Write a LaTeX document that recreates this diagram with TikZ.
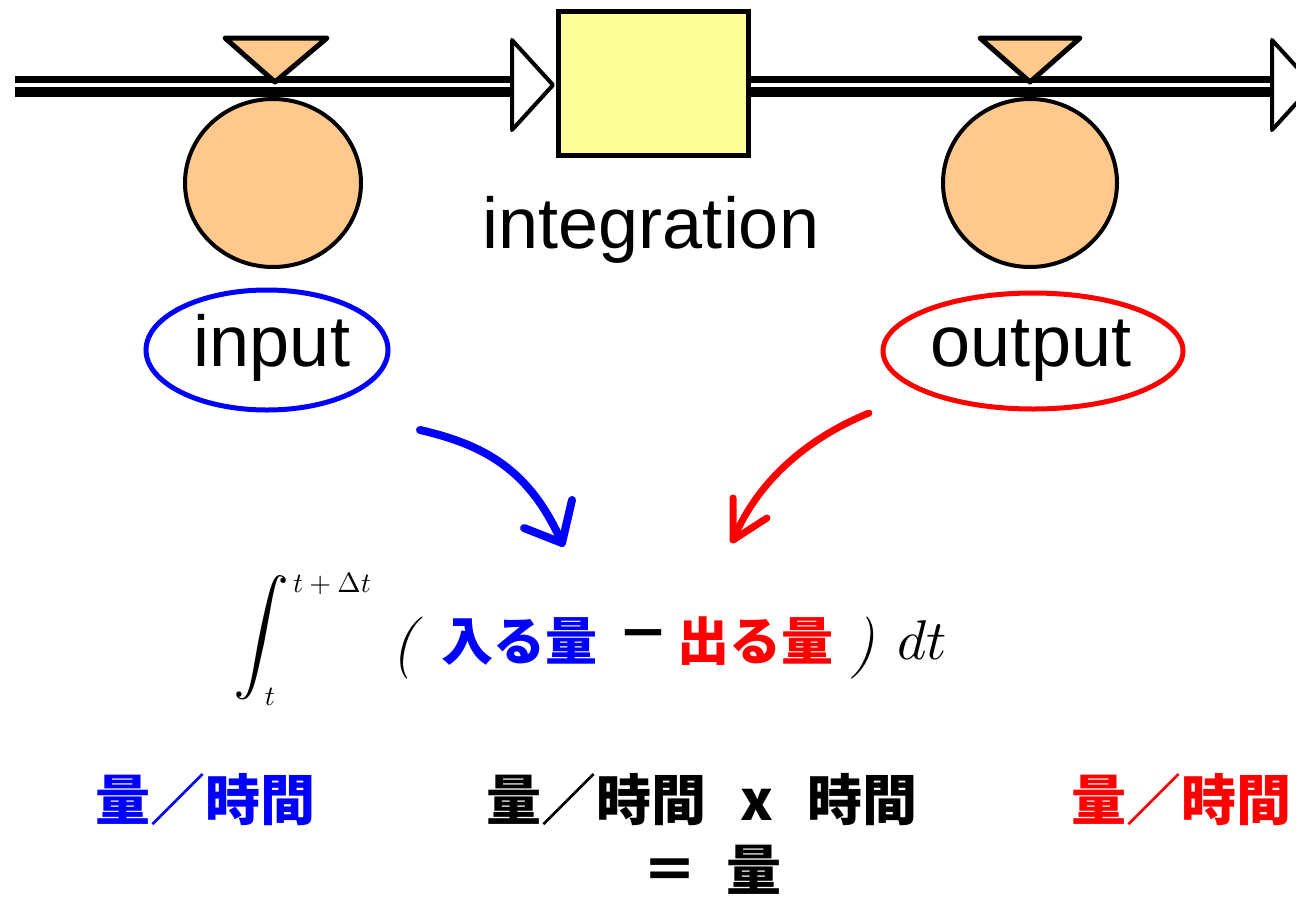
\documentclass[tikz,border=0pt]{standalone}
\usepackage{fontspec}
\usepackage{graphicx}
\usetikzlibrary{shapes.geometric}
\newfontfamily\cjk{Noto Sans CJK JP}
\newfontfamily\lat{Liberation Sans}
\definecolor{valvefill}{HTML}{FFC88C}
\definecolor{stockfill}{HTML}{FFFF99}
\definecolor{myblue}{HTML}{0000FF}
\definecolor{myred}{HTML}{FF0000}
\begin{document}
\begin{tikzpicture}[x=1pt,y=-1pt,
  pipethin/.style={line width=7pt},
  pipethick/.style={line width=10pt},
  headtri/.style={draw=black,fill=white,line width=4pt,line join=round},
  valvetri/.style={draw=black,fill=valvefill,line width=5pt,line join=round},
  auxcirc/.style={ellipse,draw=black,fill=valvefill,line width=4pt,inner sep=0pt},
  stockbox/.style={rectangle,draw=black,fill=stockfill,line width=5pt,inner sep=0pt,minimum width=190pt,minimum height=144pt},
  latlabel/.style={font=\lat\fontsize{72}{80}\selectfont,inner sep=0pt,anchor=base},
  ringlabel/.style={ellipse,line width=5pt,inner sep=0pt},
  handarrow/.style={line width=8pt,line cap=round,line join=round},
  mathpart/.style={inner sep=0pt},
  cjkbig/.style={font=\cjk\bfseries\fontsize{52}{60}\selectfont,inner sep=0pt},
  cjkrow/.style={font=\cjk\bfseries\fontsize{55}{62}\selectfont,inner sep=0pt}
]
\useasboundingbox[fill=white] (0,0) rectangle (1296,900);

% stock
\node[stockbox] (stock) at (653.5,83.5) {};

% pipe ends
\coordinate (src) at (15,85);
\coordinate (head1) at (512,85);
\coordinate (pipe2s) at (750,85);
\coordinate (head2) at (1272,85);

% pipes
\draw[pipethin] ([yshift=6pt]src) -- ([yshift=6pt]head1);
\draw[pipethick] ([yshift=-7pt]src) -- ([yshift=-7pt]head1);
\draw[pipethin] ([yshift=6pt]pipe2s) -- ([yshift=6pt]head2);
\draw[pipethick] ([yshift=-7pt]pipe2s) -- ([yshift=-7pt]head2);

% arrow heads
\draw[headtri] (512,40) -- (553,85) -- (512,130) -- cycle;
\draw[headtri] (1272,40) -- (1313,85) -- (1272,130) -- cycle;

% valves
\draw[valvetri] (225,38) -- (327,38) -- (275,82) -- cycle;
\draw[valvetri] (980,38) -- (1080,38) -- (1030,82) -- cycle;

% auxiliary circles
\node[auxcirc,minimum width=176pt,minimum height=168pt] (inrate) at (273,183) {};
\node[auxcirc,minimum width=174pt,minimum height=168pt] (outrate) at (1030,183) {};

% labels
\node[latlabel] (intlabel) at (651,248) {integration};
\node[ringlabel,draw=myblue,minimum width=242pt,minimum height=120pt] (inring) at (267,350) {};
\node[latlabel] (inlabel) at (272,366) {input};
\node[ringlabel,draw=myred,minimum width=300pt,minimum height=116pt] (outring) at (1033,351) {};
\node[latlabel] (outlabel) at (1031,366) {output};

% hand arrows
\coordinate (bstart) at (420,430);
\coordinate (btip) at (562,543);
\coordinate (barm1) at (524,528);
\coordinate (barm2) at (572,500);
\draw[handarrow,myblue] (bstart) .. controls (485,445) and (530,470) .. (btip);
\draw[handarrow,myblue] (barm1) -- (btip) -- (barm2);
\coordinate (rstart) at (869,413);
\coordinate (rtip) at (733,540);
\coordinate (rarm1) at (733,498);
\coordinate (rarm2) at (767,518);
\draw[handarrow,myred,line width=7pt] (rstart) .. controls (815,435) and (760,475) .. (rtip);
\draw[handarrow,myred,line width=7pt] (rarm1) -- (rtip) -- (rarm2);

% integral formula
\node[mathpart] (intsign) at (261,638) {\scalebox{5.6}{$\displaystyle\int$}};
\node[mathpart] (upper) at (332,584) {\scalebox{2.8}{$t+\Delta t$}};
\node[mathpart] (lower) at (270,697) {\scalebox{2.8}{$t$}};
\node[mathpart,font=\fontsize{62}{66}\selectfont] (lpar) at (404,648) {\itshape (};
\node[cjkbig,text=myblue] (inq) at (519,641) {入る量};
\node[cjkbig] (minus) at (643,641) {－};
\node[cjkbig,text=myred] (outq) at (755,641) {出る量};
\node[mathpart,font=\fontsize{62}{66}\selectfont] (rpar) at (863,648) {\itshape )};
\node[mathpart] (dt) at (922,640) {\scalebox{5.6}{$dt$}};

% units
\node[cjkrow,text=myblue] (unitin) at (205,800) {量／時間};
\node[cjkrow] (unitmid) at (702,800) {量／時間\hspace{34pt}x\hspace{34pt}時間};
\node[cjkrow] (unitres) at (712,870) {＝\hspace{30pt}量};
\node[cjkrow,text=myred] (unitout) at (1181,800) {量／時間};
\end{tikzpicture}
\end{document}
